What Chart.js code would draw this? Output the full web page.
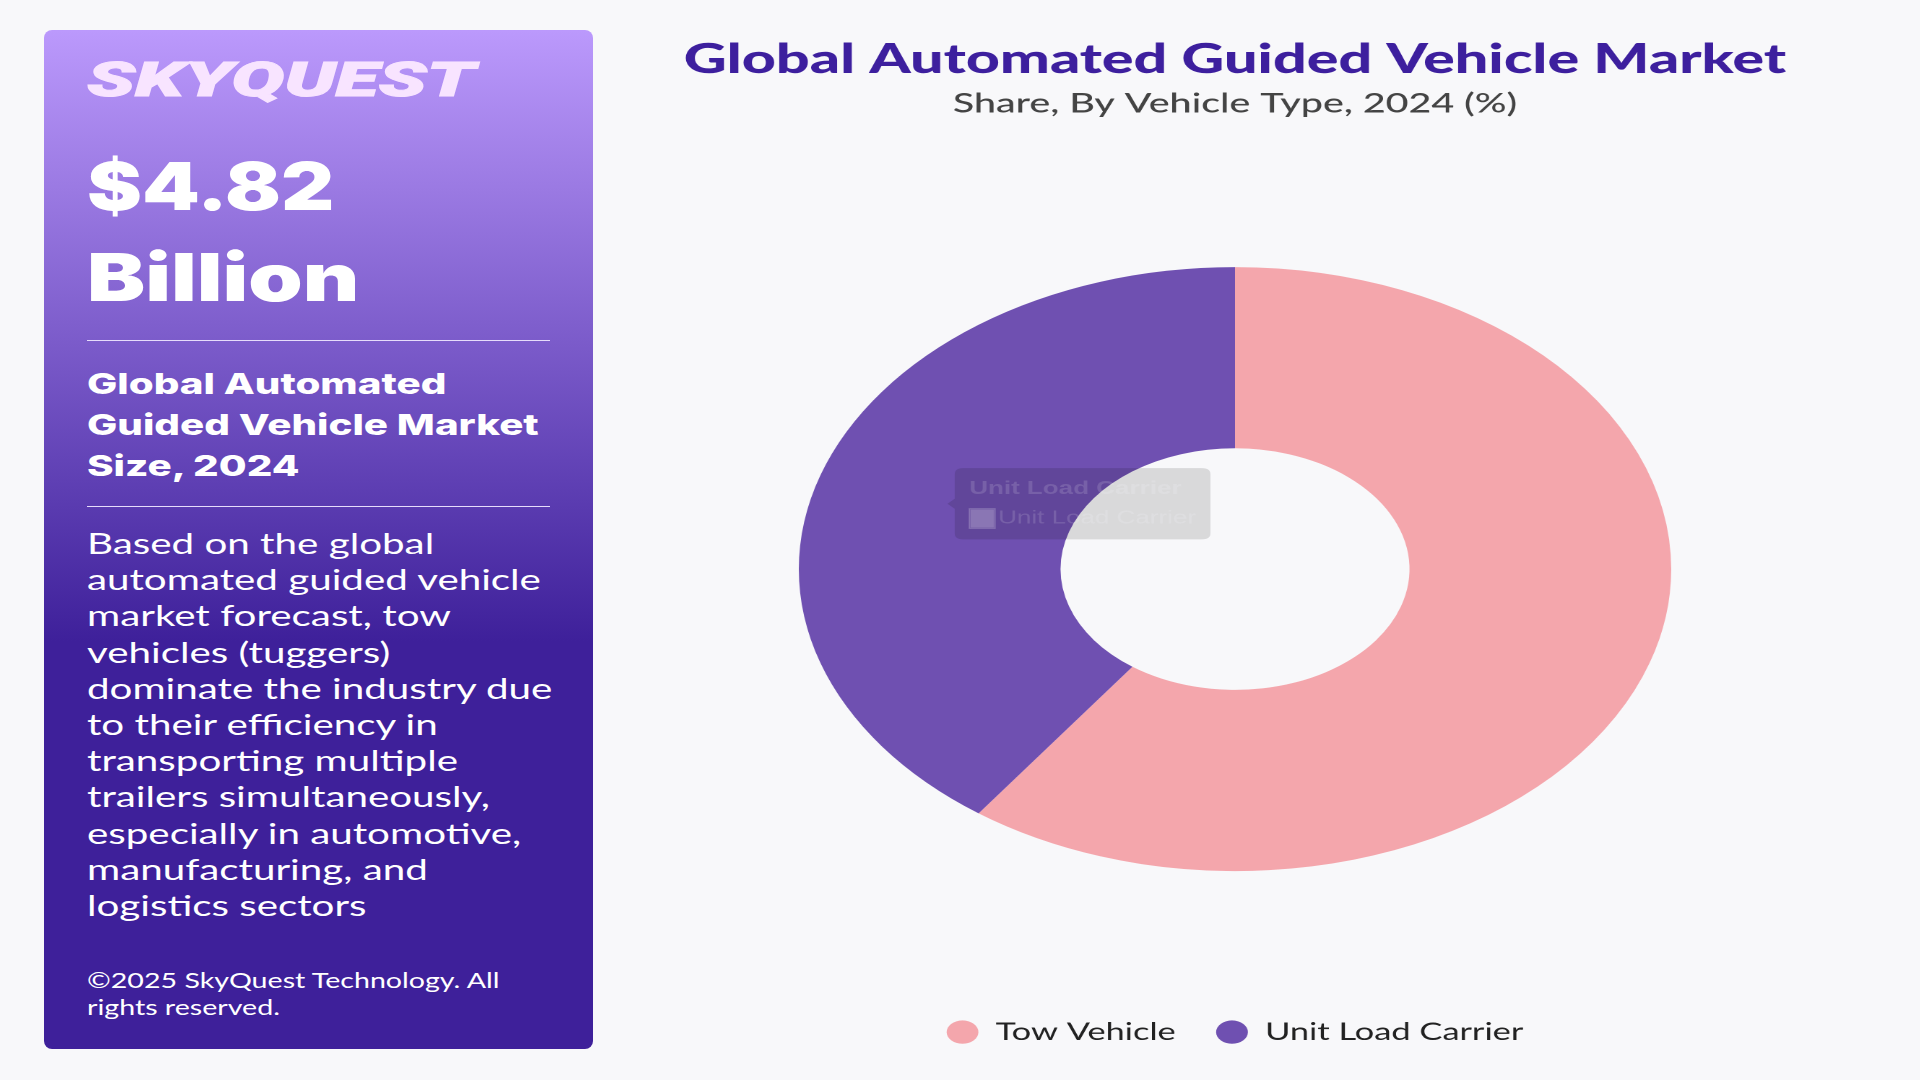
<!DOCTYPE html>
<html>
<head>
<meta charset="utf-8">
<title>Global Automated Guided Vehicle Market</title>
<script src="https://cdn.jsdelivr.net/npm/chart.js@4"></script>
<style>
  html, body { margin: 0; padding: 0; width: 1920px; height: 1080px; overflow: hidden; background: #f8f8fa; }
  #panel {
    position: absolute; left: 44px; top: 30px; width: 549px; height: 1019px; border-radius: 8px;
    background: linear-gradient(180deg, #bb99fc 0%, #3e209a 60%, #3e209a 100%);
  }
  .txt { position: absolute; left: 43px; color: #fff; font-family: Lato, sans-serif; white-space: nowrap; transform-origin: left top; }
  #logo { top: 15px; font: italic 900 48px/70px Roboto, sans-serif; color: #f8e4ff; -webkit-text-stroke: 1px #f8e4ff; transform: scaleX(1.65); }
  .big { font-family: Inter, sans-serif; font-weight: 900; font-size: 66px; line-height: 91px; }
  #big1 { top: 111px; transform: scaleX(1.25); }
  #big2 { top: 202px; transform: scaleX(1.32); }
  #head { top: 334px; font-family: Inter, sans-serif; font-weight: 800; font-size: 29px; line-height: 40.8px; transform: scaleX(1.39); }
  #desc { top: 495px; font-size: 28px; line-height: 36.2px; transform: scaleX(1.44); }
  #copy { top: 936px; font-size: 22px; line-height: 27px; transform: scaleX(1.3); }
  .rule { position: absolute; left: 43px; width: 463px; height: 1px; background: #e6dcfb; }
  #market { position: absolute; left: 792px; top: 0; transform: scaleX(1.4444); transform-origin: center center; }
</style>
</head>
<body>
<div id="panel">
  <div class="txt" id="logo">SKYQUEST</div>
  <div class="txt big" id="big1">$4.82</div>
  <div class="txt big" id="big2">Billion</div>
  <div class="rule" style="top:310px"></div>
  <div class="txt" id="head">Global Automated<br>Guided Vehicle Market<br>Size, 2024</div>
  <div class="rule" style="top:476px"></div>
  <div class="txt" id="desc">Based on the global<br>automated guided vehicle<br>market forecast, tow<br>vehicles (tuggers)<br>dominate the industry due<br>to their efficiency in<br>transporting multiple<br>trailers simultaneously,<br>especially in automotive,<br>manufacturing, and<br>logistics sectors</div>
  <div class="txt" id="copy">©2025 SkyQuest Technology. All<br>rights reserved.</div>
</div>
<canvas id="market"></canvas>
<script>
// chart values
var vehicle_types = ["Tow Vehicle", "Unit Load Carrier"];
var share_2024 = [60, 40];
var slice_colors = ["#f4a6ac", "#6f50b1"];
var chart_title = "Global Automated Guided Vehicle Market";
var chart_subtitle = "Share, By Vehicle Type, 2024 (%)";

var canvas = document.getElementById("market");
canvas.style.width = "886px";
canvas.style.height = "1080px";
canvas.width = 886;
canvas.height = 1080;

var graph_market = new Chart(canvas, {
  type: "doughnut",
  data: {
    labels: vehicle_types,
    datasets: [{
      data: share_2024,
      backgroundColor: slice_colors,
      borderWidth: 0,
      hoverOffset: 0,
      radius: 302,
      cutout: "40%"
    }]
  },
  options: {
    responsive: false,
    devicePixelRatio: 2,
    animation: false,
    events: [],
    layout: {padding: {bottom: 26}},
    plugins: {
      title: {
        display: true,
        text: chart_title,
        color: "#3d1f9e",
        font: {family: "Lato", size: 41, weight: "900"},
        padding: {top: 35, bottom: 3}
      },
      subtitle: {
        display: true,
        text: chart_subtitle,
        color: "#444444",
        font: {family: "Lato", size: 27.3, weight: "500"},
        padding: {top: 0, bottom: 26}
      },
      legend: {
        position: "bottom",
        labels: {
          usePointStyle: true,
          boxHeight: 16.5,
          pointStyleWidth: 22,
          padding: 28,
          color: "#222222",
          font: {family: "Lato", size: 23.8}
        }
      },
      // the reference caught the tooltip half faded out
      tooltip: {
        xAlign: "left",
        yAlign: "center",
        backgroundColor: "rgba(0,0,0,0.125)",
        titleColor: "rgba(255,255,255,0.14)",
        bodyColor: "rgba(255,255,255,0.14)",
        titleFont: {family: "Liberation Sans", size: 18, weight: "bold"},
        bodyFont: {family: "Liberation Sans", size: 18},
        titleMarginBottom: 8,
        padding: {x: 10, y: 10},
        boxWidth: 18,
        boxHeight: 20,
        multiKeyBackground: "rgba(255,255,255,0.14)",
        callbacks: {
          title: function(items) { return items[0].label; },
          label: function(item) { return item.label; },
          labelColor: function() {
            return {backgroundColor: "rgba(255,255,255,0.14)", borderColor: "rgba(255,255,255,0.14)", borderWidth: 0};
          }
        }
      }
    }
  }
});

graph_market.tooltip.setActiveElements([{datasetIndex: 0, index: 1}], {x: 0, y: 0});
graph_market.update();
</script>
</body>
</html>
